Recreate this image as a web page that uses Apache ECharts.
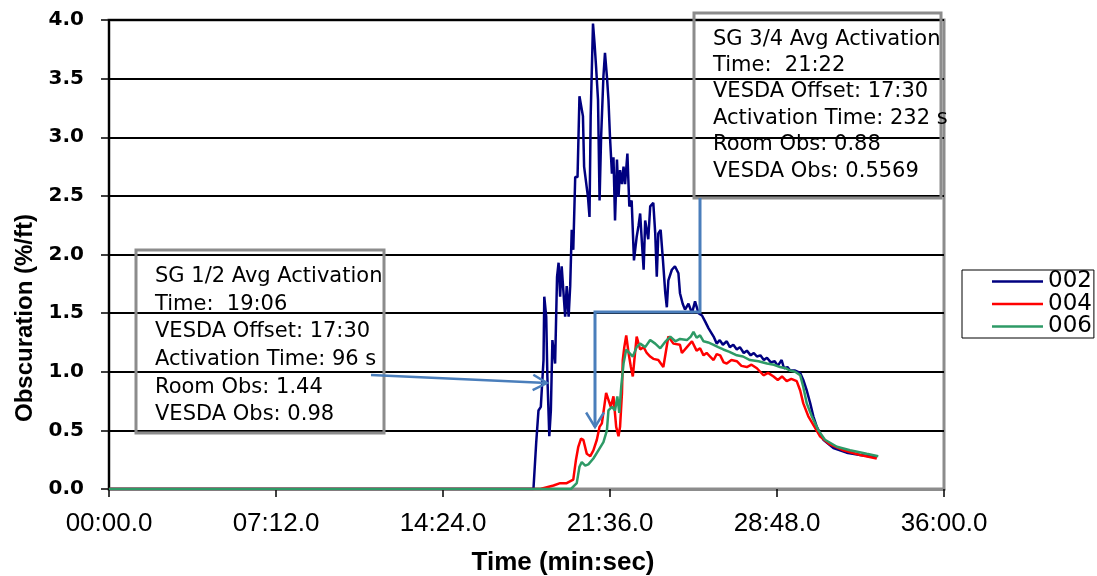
<!DOCTYPE html>
<html>
<head>
<meta charset="utf-8">
<title>Obscuration vs Time</title>
<script src="https://cdn.jsdelivr.net/npm/echarts@6/dist/echarts.min.js"></script>
<style>
  html, body { margin: 0; padding: 0; background: #fff; }
  #chart { width: 1097px; height: 576px; }
</style>
</head>
<body>
<div id="chart"></div>
<script>
// Obscuration readings, [time in seconds, %/ft]
const data002 = [
  [0, 0], [1098, 0], [1105, 0.39], [1111, 0.67], [1117, 0.70], [1124, 1.10], [1126, 1.64], [1131, 1.47],
  [1134, 0.96], [1139, 0.45], [1143, 0.67], [1147, 1.27], [1152, 1.27], [1154, 1.07], [1159, 1.81], [1163, 1.93],
  [1167, 1.64], [1171, 1.90], [1176, 1.90], [1180, 1.47], [1184, 1.73], [1189, 1.47], [1193, 1.73], [1197, 2.21],
  [1201, 2.04], [1206, 2.66], [1212, 2.66], [1217, 3.35], [1221, 3.35], [1226, 3.18], [1229, 2.75], [1234, 2.75],
  [1239, 2.49], [1243, 2.32], [1246, 3.18], [1252, 3.97], [1256, 3.80], [1260, 3.60], [1265, 3.32], [1269, 2.46],
  [1273, 3.00], [1279, 3.52], [1283, 3.72], [1288, 3.52], [1292, 3.32], [1296, 3.00], [1301, 2.69], [1305, 2.83],
  [1309, 2.29], [1314, 2.81], [1318, 2.49], [1322, 2.72], [1327, 2.60], [1331, 2.75], [1335, 2.60], [1341, 2.86],
  [1346, 2.41], [1352, 2.46], [1358, 1.95], [1365, 2.15], [1370, 2.25], [1374, 2.35], [1378, 2.13], [1383, 1.87],
  [1387, 2.29], [1395, 2.13], [1400, 2.41], [1408, 2.44], [1413, 2.18], [1417, 1.81], [1421, 2.18], [1427, 2.21],
  [1433, 1.95], [1439, 1.67], [1443, 1.55], [1447, 1.78], [1456, 1.87], [1464, 1.90], [1473, 1.84], [1477, 1.67],
  [1484, 1.58], [1490, 1.53], [1499, 1.58], [1508, 1.50], [1516, 1.60], [1525, 1.50], [1534, 1.48], [1542, 1.43],
  [1551, 1.37], [1555, 1.36], [1564, 1.30], [1572, 1.24], [1580, 1.27], [1588, 1.23], [1598, 1.26], [1606, 1.21],
  [1615, 1.23], [1624, 1.19], [1632, 1.21], [1642, 1.16], [1650, 1.18], [1660, 1.14], [1668, 1.16], [1676, 1.13],
  [1685, 1.14], [1694, 1.10], [1702, 1.12], [1712, 1.08], [1722, 1.09], [1730, 1.05], [1740, 1.10], [1746, 1.03],
  [1755, 1.04], [1762, 1.01], [1775, 1.01], [1788, 0.99], [1796, 0.93], [1805, 0.84], [1814, 0.73], [1822, 0.62],
  [1831, 0.53], [1848, 0.42], [1874, 0.35], [1908, 0.31], [1943, 0.29], [1986, 0.27]
];

const data004 = [
  [0, 0], [1116, 0], [1150, 0.03], [1167, 0.05], [1184, 0.05], [1201, 0.08], [1208, 0.25], [1214, 0.36],
  [1221, 0.43], [1227, 0.42], [1236, 0.30], [1245, 0.28], [1253, 0.33], [1262, 0.42], [1269, 0.53], [1275, 0.56],
  [1281, 0.70], [1286, 0.82], [1292, 0.76], [1298, 0.70], [1305, 0.79], [1312, 0.53], [1318, 0.45], [1322, 0.53],
  [1327, 0.82], [1329, 1.10], [1333, 1.21], [1338, 1.31], [1344, 1.16], [1350, 1.04], [1355, 0.96], [1359, 1.10],
  [1365, 1.30], [1374, 1.19], [1383, 1.21], [1391, 1.16], [1400, 1.13], [1408, 1.11], [1421, 1.10], [1434, 1.04],
  [1447, 1.30], [1452, 1.31], [1460, 1.24], [1477, 1.23], [1482, 1.16], [1495, 1.21], [1508, 1.26], [1520, 1.18],
  [1529, 1.20], [1538, 1.14], [1546, 1.16], [1555, 1.13], [1564, 1.10], [1572, 1.15], [1581, 1.14], [1590, 1.08],
  [1598, 1.07], [1610, 1.10], [1624, 1.09], [1636, 1.05], [1650, 1.04], [1662, 1.06], [1676, 1.03], [1693, 0.97],
  [1705, 0.99], [1719, 0.96], [1730, 0.93], [1741, 0.96], [1753, 0.92], [1765, 0.94], [1779, 0.92], [1788, 0.84],
  [1796, 0.73], [1809, 0.62], [1827, 0.52], [1839, 0.45], [1865, 0.38], [1900, 0.33], [1943, 0.29], [1986, 0.26]
];

const data006 = [
  [0, 0], [1195, 0], [1210, 0.05], [1217, 0.19], [1223, 0.23], [1232, 0.20], [1240, 0.21], [1253, 0.26],
  [1266, 0.33], [1279, 0.40], [1288, 0.50], [1292, 0.67], [1301, 0.70], [1309, 0.67], [1315, 0.79], [1320, 0.65],
  [1325, 0.87], [1331, 1.07], [1338, 1.19], [1346, 1.16], [1355, 1.13], [1365, 1.21], [1374, 1.24], [1387, 1.21],
  [1400, 1.27], [1413, 1.24], [1426, 1.20], [1440, 1.26], [1452, 1.30], [1465, 1.26], [1477, 1.28], [1495, 1.27],
  [1505, 1.30], [1512, 1.34], [1520, 1.29], [1529, 1.31], [1538, 1.26], [1550, 1.25], [1564, 1.23], [1576, 1.21],
  [1589, 1.19], [1605, 1.17], [1624, 1.14], [1640, 1.13], [1658, 1.10], [1680, 1.09], [1702, 1.07], [1720, 1.06],
  [1736, 1.04], [1750, 1.03], [1762, 1.01], [1775, 1.00], [1788, 0.97], [1796, 0.87], [1805, 0.73], [1818, 0.62],
  [1835, 0.50], [1852, 0.42], [1883, 0.36], [1917, 0.33], [1960, 0.30], [1990, 0.28]
];

const seriesNames = ['002', '004', '006'];

const note12 = [
  'SG 1/2 Avg Activation',
  'Time:  19:06',
  'VESDA Offset: 17:30',
  'Activation Time: 96 s',
  'Room Obs: 1.44',
  'VESDA Obs: 0.98'
];
const note34 = [
  'SG 3/4 Avg Activation',
  'Time:  21:22',
  'VESDA Offset: 17:30',
  'Activation Time: 232 s',
  'Room Obs: 0.88',
  'VESDA Obs: 0.5569'
];

// axis range (seconds / %/ft)
const xMax = 2160, xStep = 432;
const yMax = 4, yStep = 0.5;

function fmtTime(sec) {
  const m = Math.floor(sec / 60);
  const s = sec - m * 60;
  return String(m).padStart(2, '0') + ':' + s.toFixed(1).padStart(4, '0');
}

// open arrow head at (tx,ty), coming from (fx,fy)
function arrowHead(fx, fy, tx, ty, len, spread) {
  const a = Math.atan2(ty - fy, tx - fx);
  return [
    [tx - len * Math.cos(a - spread), ty - len * Math.sin(a - spread)],
    [tx, ty],
    [tx - len * Math.cos(a + spread), ty - len * Math.sin(a + spread)]
  ];
}

const connColor = '#4a7ebb';
const chart = echarts.init(document.getElementById('chart'), null, { renderer: 'canvas' });

const lineColors = ['#000080', '#ff0000', '#2e9a66'];
const seriesData = [data002, data004, data006];

const option = {
  animation: false,
  backgroundColor: '#fff',
  grid: {
    left: 109, right: 153, top: 20, bottom: 87,
    show: true, borderColor: '#8c8c8c', borderWidth: 3
  },
  legend: {
    orient: 'vertical',
    left: 962, top: 270,
    padding: [0, 2, 0, 30],
    itemGap: -0.5,
    itemWidth: 51, itemHeight: 2.5,
    icon: 'rect',
    backgroundColor: '#fff',
    borderColor: '#000', borderWidth: 1,
    textStyle: { fontFamily: 'DejaVu Sans', fontSize: 23, color: '#000' },
    data: seriesNames
  },
  xAxis: {
    type: 'value',
    min: 0, max: xMax, interval: xStep,
    axisLine: { show: true, lineStyle: { color: '#8c8c8c', width: 3 } },
    axisTick: { show: true, inside: false, length: 8, lineStyle: { color: '#000', width: 1.5 } },
    splitLine: { show: false },
    axisLabel: {
      margin: 22,
      formatter: fmtTime,
      fontFamily: 'Liberation Sans', fontSize: 26, color: '#000'
    }
  },
  yAxis: {
    type: 'value',
    min: 0, max: yMax, interval: yStep,
    axisLine: { show: true, lineStyle: { color: '#000', width: 2 } },
    axisTick: { show: true, inside: false, length: 8, lineStyle: { color: '#000', width: 1.5 } },
    splitLine: { show: true, lineStyle: { color: '#000', width: 2 } },
    axisLabel: {
      margin: 25,
      formatter: v => v.toFixed(1),
      fontFamily: 'DejaVu Sans', fontWeight: 'bold', fontSize: 20, color: '#000'
    }
  },
  series: seriesNames.map((name, i) => ({
    name: name,
    type: 'line',
    data: seriesData[i],
    symbol: 'none',
    showSymbol: false,
    color: lineColors[i],
    lineStyle: { color: lineColors[i], width: 2.5 },
    z: 3 + i
  }))
};

chart.setOption(option);

// annotation boxes, connectors and axis titles
const box12 = { x: 136, y: 250, w: 248, h: 183 };
const box34 = { x: 694, y: 13, w: 247, h: 185 };

const arrow1 = { from: [371, 375], to: [547, 383] };
const arrow2 = [[700, box34.y + box34.h], [700, 312], [595, 312], [595, 427]];

const graphics = [
  {
    type: 'rect', z: 20,
    shape: { x: box12.x, y: box12.y, width: box12.w, height: box12.h },
    style: { fill: null, stroke: '#8c8c8c', lineWidth: 3 }
  },
  {
    type: 'text', z: 21, x: 155, y: 263,
    style: {
      text: note12.join('\n'), font: '21px "DejaVu Sans"', fill: '#000',
      lineHeight: 27.6, align: 'left', verticalAlign: 'top'
    }
  },
  {
    type: 'rect', z: 20,
    shape: { x: box34.x, y: box34.y, width: box34.w, height: box34.h },
    style: { fill: null, stroke: '#8c8c8c', lineWidth: 3 }
  },
  {
    type: 'text', z: 21, x: 713, y: 26,
    style: {
      text: note34.join('\n'), font: '21px "DejaVu Sans"', fill: '#000',
      lineHeight: 26.4, align: 'left', verticalAlign: 'top'
    }
  },
  {
    type: 'line', z: 22,
    shape: { x1: arrow1.from[0], y1: arrow1.from[1], x2: arrow1.to[0], y2: arrow1.to[1] },
    style: { stroke: connColor, lineWidth: 2.5 }
  },
  {
    type: 'polyline', z: 22,
    shape: { points: arrowHead(arrow1.from[0], arrow1.from[1], arrow1.to[0], arrow1.to[1], 16, 0.5) },
    style: { stroke: connColor, lineWidth: 2.5, fill: null }
  },
  {
    type: 'polyline', z: 22,
    shape: { points: arrow2 },
    style: { stroke: connColor, lineWidth: 3, fill: null }
  },
  {
    type: 'polyline', z: 22,
    shape: { points: arrowHead(arrow2[2][0], arrow2[2][1], arrow2[3][0], arrow2[3][1], 17, 0.55) },
    style: { stroke: connColor, lineWidth: 2.5, fill: null }
  },
  {
    type: 'text', z: 21, x: 25, y: 318, rotation: Math.PI / 2,
    style: {
      text: 'Obscuration (%/ft)', font: 'bold 24px "Liberation Sans"', fill: '#000',
      align: 'center', verticalAlign: 'middle'
    }
  },
  {
    type: 'text', z: 21, x: 563, y: 563,
    style: {
      text: 'Time (min:sec)', font: 'bold 26px "Liberation Sans"', fill: '#000',
      align: 'center', verticalAlign: 'middle'
    }
  }
];

chart.setOption({ graphic: graphics });
</script>
</body>
</html>
